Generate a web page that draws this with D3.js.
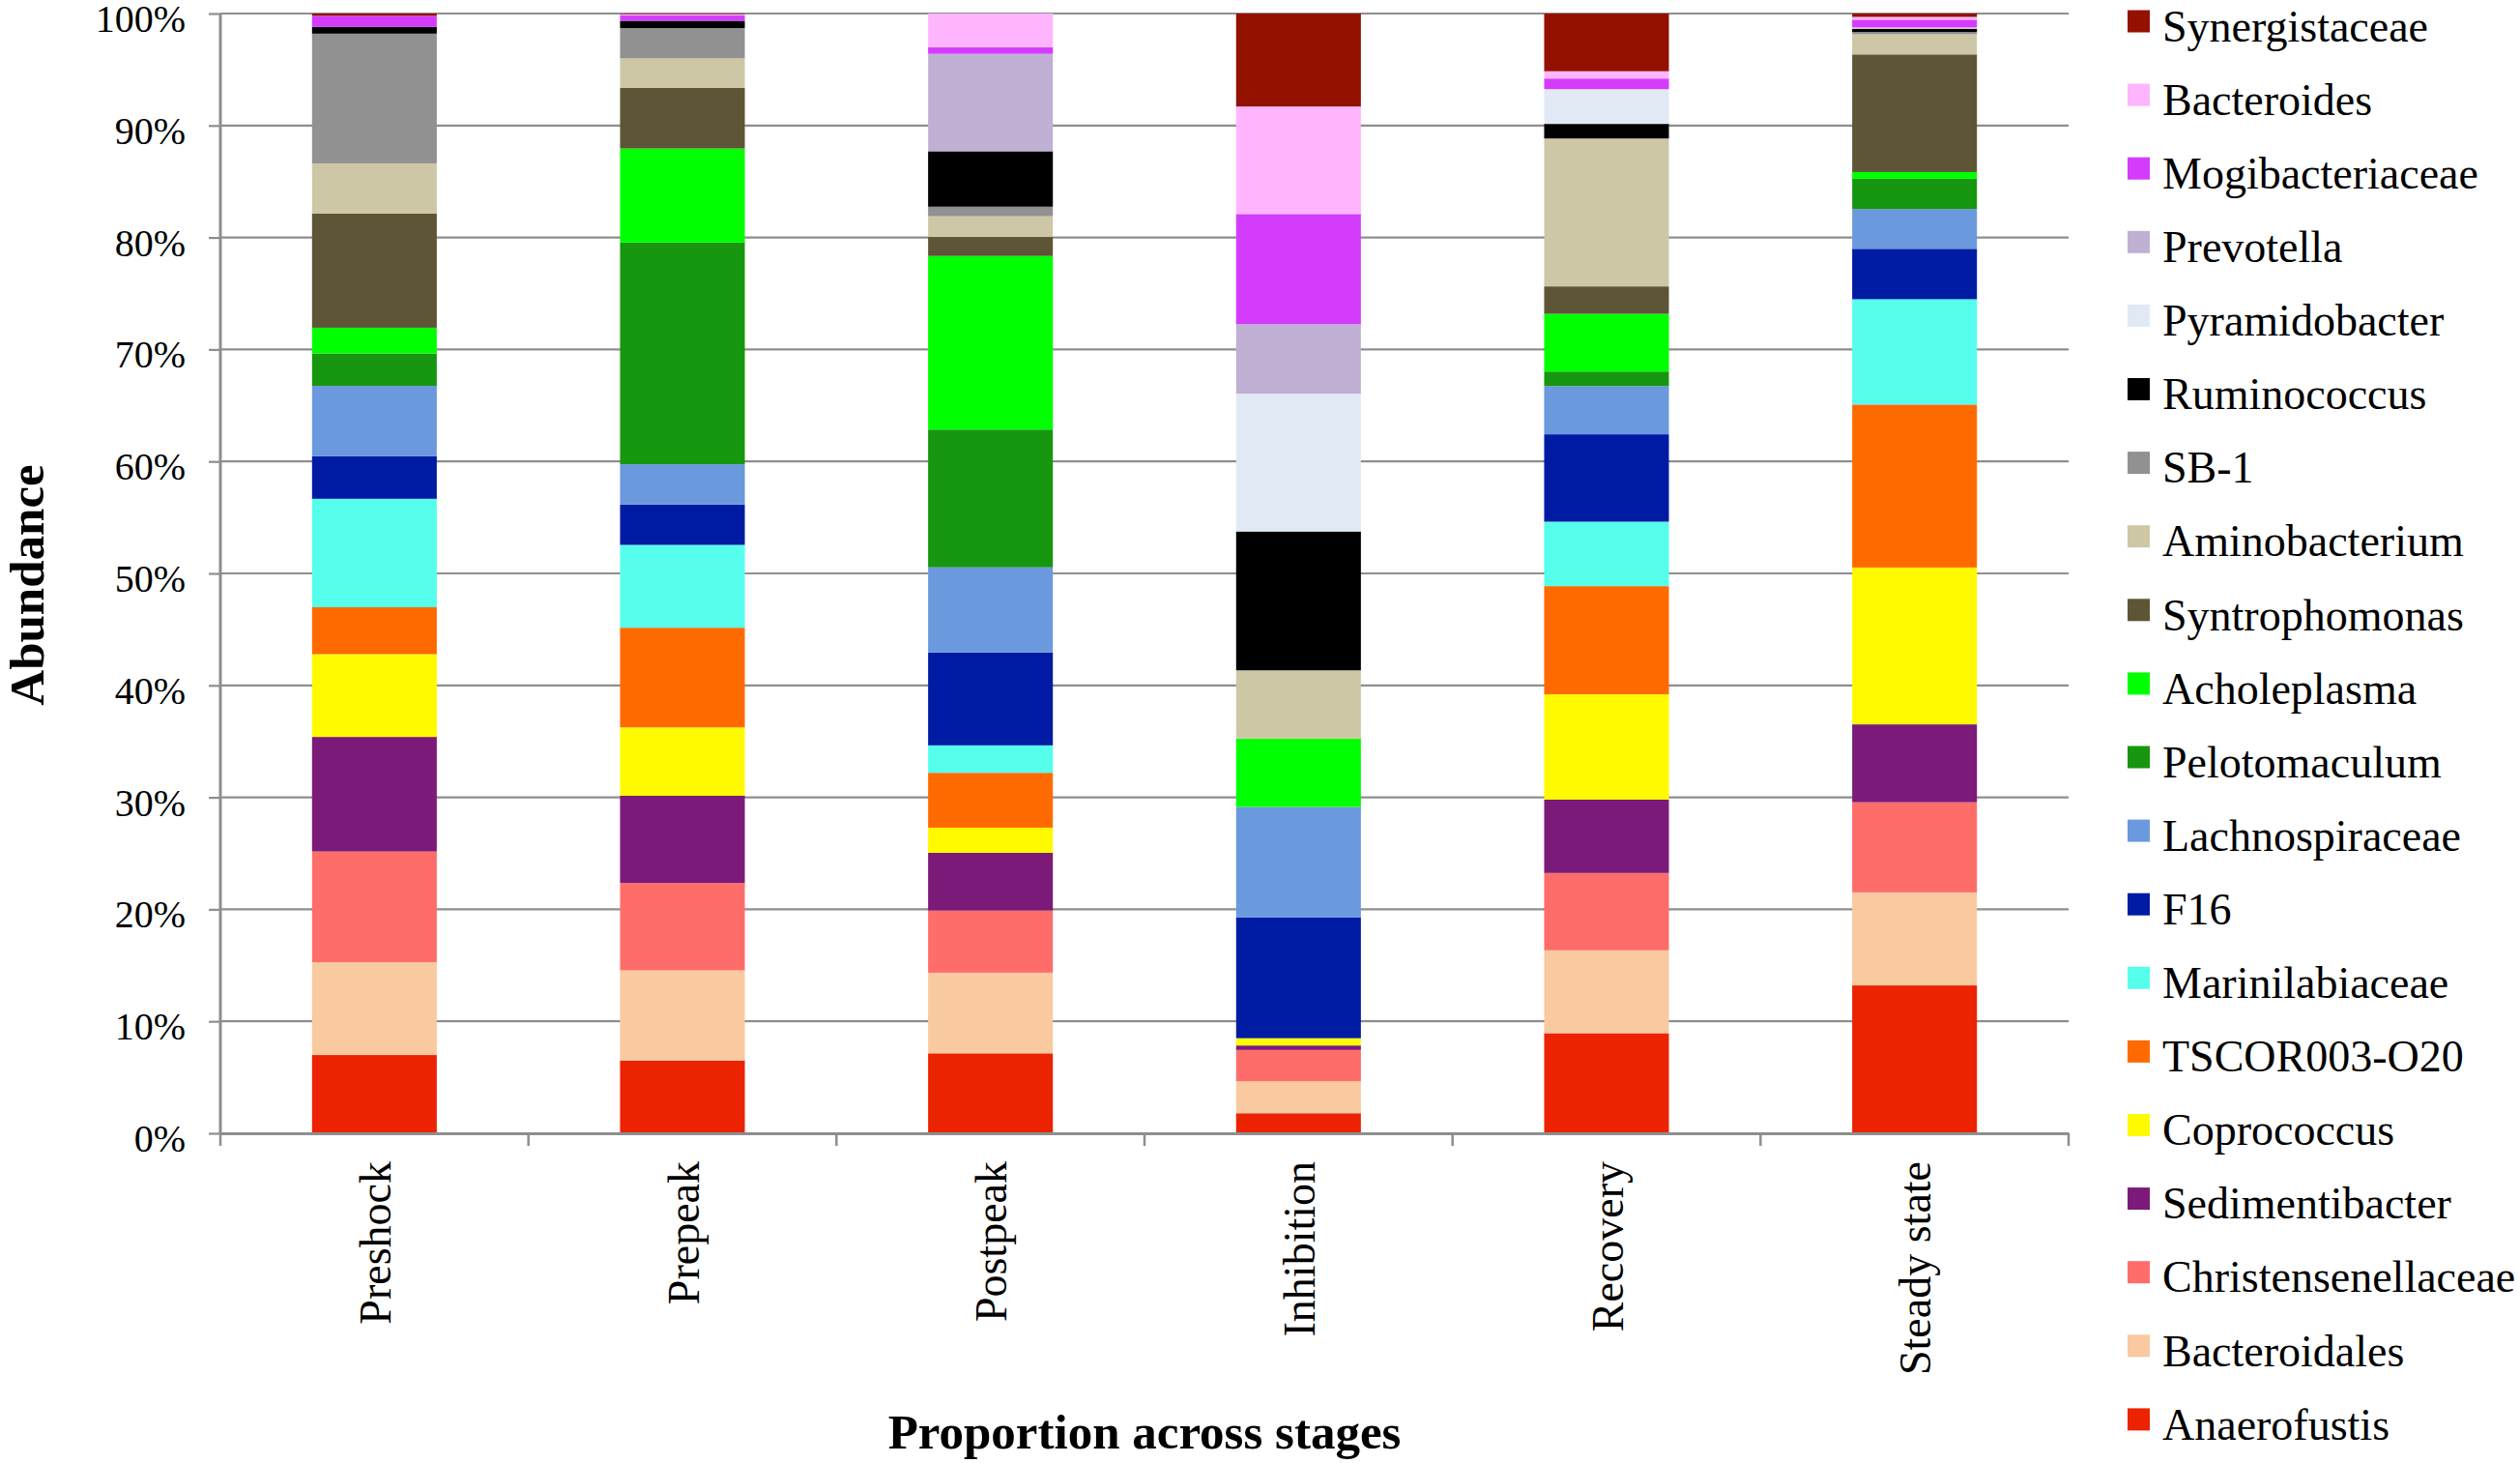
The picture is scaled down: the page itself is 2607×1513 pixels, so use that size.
<!DOCTYPE html>
<html>
<head>
<meta charset="utf-8">
<script src="https://cdn.jsdelivr.net/npm/d3@7"></script>
<style>
  body{margin:0;background:#fff}
  text{font-family:"Liberation Serif","Times New Roman",serif}
</style>
</head>
<body>
<div id="chart"></div>
<script>
var stages = ['Preshock','Prepeak','Postpeak','Inhibition','Recovery','Steady state']

// stack order, bottom to top
var taxa = ['Anaerofustis','Bacteroidales','Christensenellaceae','Sedimentibacter','Coprococcus',
  'TSCOR003-O20','Marinilabiaceae','F16','Lachnospiraceae','Pelotomaculum','Acholeplasma',
  'Syntrophomonas','Aminobacterium','SB-1','Ruminococcus','Pyramidobacter','Prevotella',
  'Mogibacteriaceae','Bacteroides','Synergistaceae']

var colors = ['#eb2300','#f9c9a0','#ff6d6b','#7b1a78','#fffa00',
  '#ff6a00','#55ffec','#001ba3','#6a99de','#17960f','#00ff00',
  '#5d5536','#cec7a6','#919191','#000000','#e1e9f4','#c0b1d4',
  '#d43cfc','#ffb5fd','#941100']

// abundance (%) per stage, same order as taxa
var preshock   = [7.0, 8.3, 9.9, 10.25, 7.4, 4.2, 9.7, 3.8, 6.3, 2.9, 2.3, 10.2, 4.5, 11.6, 0.6, 0, 0, 1.0, 0, 0.2]
var prepeak    = [6.5, 8.05, 7.8, 7.8, 6.1, 8.9, 7.4, 3.6, 3.6, 19.8, 8.4, 5.4, 2.65, 2.7, 0.65, 0, 0, 0.5, 0.1, 0.05]
var postpeak   = [7.14, 7.2, 5.55, 5.15, 2.25, 4.9, 2.45, 8.3, 7.6, 12.3, 15.5, 1.7, 1.85, 0.85, 4.95, 0, 8.7, 0.6, 3.0, 0]
var inhibition = [1.79, 2.85, 2.8, 0.4, 0.65, 0, 0, 10.8, 9.85, 0, 6.1, 0, 6.1, 0, 12.4, 12.3, 6.2, 9.85, 9.6, 8.3]
var recovery   = [8.93, 7.4, 6.9, 6.55, 9.4, 9.65, 5.75, 7.8, 4.3, 1.3, 5.15, 2.45, 13.2, 0, 1.3, 3.1, 0, 0.95, 0.65, 5.15]
var steady     = [13.2, 8.3, 8.05, 6.95, 14.0, 14.55, 9.4, 4.5, 3.55, 2.7, 0.6, 10.5, 1.8, 0.2, 0.3, 0.1, 0, 0.7, 0.25, 0.3]

var yTicks = [0,.1,.2,.3,.4,.5,.6,.7,.8,.9,1]

var W = 2607, H = 1513
var plotL = 228, plotR = 2140, plotT = 14, plotB = 1172

var rows = [preshock,prepeak,postpeak,inhibition,recovery,steady].map((vals,i)=>{
  var row = {stage:stages[i]}
  taxa.forEach((t,j)=>{ row[t] = vals[j] })
  return row
})

var series = d3.stack().keys(taxa).offset(d3.stackOffsetExpand)(rows)

var x = d3.scaleBand().domain(stages).range([plotL,plotR]).paddingInner(0.595).paddingOuter(0.2975)
var y = d3.scaleLinear().domain([0,1]).range([plotB,plotT])

var svg = d3.select('#chart').append('svg')
  .attr('width',W).attr('height',H)

var grey = '#8e8e8e'

// gridlines
svg.append('g').selectAll('line').data(yTicks.filter(d=>d>0)).enter().append('line')
  .attr('x1',plotL).attr('x2',plotR)
  .attr('y1',d=>y(d)).attr('y2',d=>y(d))
  .attr('stroke',grey).attr('stroke-width',2.2)

// bars
svg.append('g').selectAll('g').data(series).enter().append('g')
  .attr('fill',(d,i)=>colors[i])
  .selectAll('rect').data(d=>d).enter().append('rect')
    .attr('x',d=>x(d.data.stage))
    .attr('width',x.bandwidth())
    .attr('y',d=>y(d[1]))
    .attr('height',d=>y(d[0])-y(d[1]))

// y axis
var yAxis = svg.append('g').attr('transform',`translate(${plotL},0)`)
  .call(d3.axisLeft(y).tickValues(yTicks).tickFormat(d3.format('.0%')).tickSize(12).tickPadding(24))
yAxis.select('.domain').attr('d',`M0,${plotT}V${plotB}`).attr('stroke',grey).attr('stroke-width',3)
yAxis.selectAll('.tick line').attr('stroke',grey).attr('stroke-width',2.2)
yAxis.selectAll('.tick text').attr('font-size',40).attr('fill','#000').attr('dy','0.46em')
  .style('font-family','"Liberation Serif","Times New Roman",serif')

// x axis
var xAxis = svg.append('g').attr('transform',`translate(0,${plotB})`)
  .call(d3.axisBottom(x).tickSize(0).tickPadding(0))
xAxis.select('.domain').attr('stroke',grey).attr('stroke-width',3)
xAxis.selectAll('.tick text')
  .attr('font-size',46).attr('fill','#000')
  .style('font-family','"Liberation Serif","Times New Roman",serif')
  .attr('text-anchor','end')
  .attr('transform','translate(0,29) rotate(-90)')
  .attr('x',0).attr('y',0).attr('dy','0.36em')

// category boundary ticks
xAxis.append('g').selectAll('line').data(d3.range(stages.length+1)).enter().append('line')
  .attr('x1',d=>plotL+d*x.step()).attr('x2',d=>plotL+d*x.step())
  .attr('y1',0).attr('y2',13)
  .attr('stroke',grey).attr('stroke-width',2.5)

// axis titles
svg.append('text')
  .attr('transform',`translate(45,605) rotate(-90)`)
  .attr('text-anchor','middle')
  .attr('font-size',51).attr('font-weight','bold')
  .text('Abundance')

svg.append('text')
  .attr('x',(plotL+plotR)/2).attr('y',1498)
  .attr('text-anchor','middle')
  .attr('font-size',51).attr('font-weight','bold')
  .text('Proportion across stages')

// legend, top entry is the top of the stack
var legend = svg.append('g').selectAll('g').data(taxa.slice().reverse()).enter().append('g')
  .attr('transform',(d,i)=>`translate(2201,${22+i*76.1})`)
legend.append('rect')
  .attr('x',0).attr('y',-11.5).attr('width',23).attr('height',23)
  .attr('fill',d=>colors[taxa.indexOf(d)])
legend.append('text')
  .attr('x',36).attr('y',0).attr('dy','0.45em')
  .attr('font-size',46)
  .text(d=>d)
</script>
</body>
</html>
